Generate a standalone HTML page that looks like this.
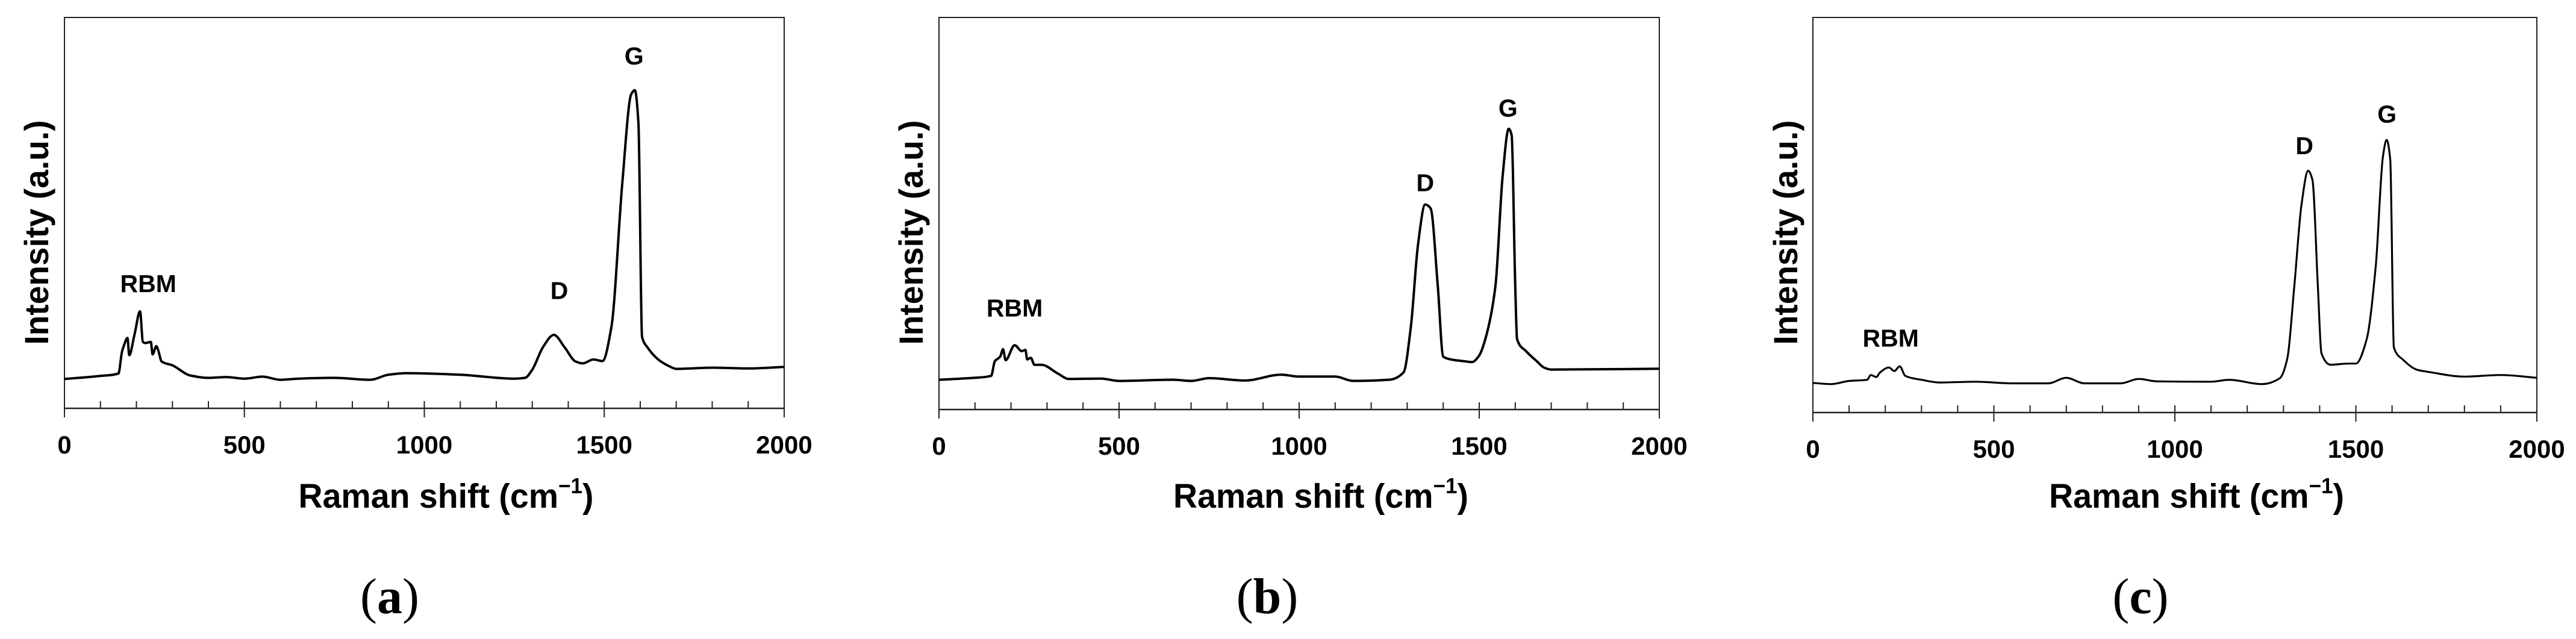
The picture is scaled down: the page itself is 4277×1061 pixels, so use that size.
<!DOCTYPE html>
<html><head><meta charset="utf-8"><style>
html,body{margin:0;padding:0;background:#fff;}
svg{display:block;}
text{font-family:"Liberation Sans",sans-serif;font-weight:bold;fill:#000;}
</style></head><body>
<svg id="fig" width="4277" height="1061" viewBox="0 0 4277 1061" xmlns="http://www.w3.org/2000/svg"></svg>
<script>
// ---- data (x: Raman shift cm^-1, y: intensity a.u., 0..100 of plot height) ----
const xTicks = [0, 500, 1000, 1500, 2000];
const panelLetters = ["a", "b", "c"];
const peakNames = ["RBM", "D", "G"];

const xA = [0,100,150,160,165,175,180,195,210,218,225,240,245,255,260,270,300,350,400,450,500,550,600,650,750,850,900,950,1100,1250,1280,1300,1330,1360,1390,1420,1440,1470,1495,1520,1550,1575,1585,1595,1605,1620,1650,1680,1700,1800,1900,2000];
const yA = [7.5,8.3,8.9,14.5,16,18,13.6,19,24.8,17,16.7,17,13.8,15.9,15,12,11,8.4,7.8,8,7.6,8.1,7.3,7.6,7.8,7.3,8.6,9,8.6,7.6,7.8,9.9,15.7,18.8,15.6,12,11.5,12.5,12.1,20.9,57.4,80.4,81.4,73,18.3,15.6,12.5,10.8,10.1,10.4,10.2,10.6];
const labelXA = [233, 1375, 1583];
const labelYA = [29.7, 28, 88];

const xB = [0,100,145,155,170,178,185,210,230,240,245,255,265,285,330,360,450,500,650,700,750,850,950,1000,1100,1150,1250,1290,1310,1330,1350,1365,1385,1400,1420,1460,1480,1500,1520,1545,1565,1582,1590,1600,1605,1630,1660,1680,1700,2000];
const yB = [7.6,8.1,8.6,12.3,13.5,15.4,12.6,16.4,14.9,15.2,12.8,13.2,11.4,11.4,9.2,7.8,7.9,7.3,7.6,7.3,8,7.4,8.9,8.4,8.4,7.3,7.6,9.5,21,42,52.3,51.3,31.5,13.5,12.8,12.3,12.1,13.8,19,31.5,59.6,71.6,70,31.5,18,14.9,12.3,10.7,10.2,10.4];
const labelXB = [210, 1350, 1580];
const labelYB = [23.7, 55.7, 74.7];

const xC = [0,50,100,150,160,175,185,210,225,240,255,300,350,450,550,650,700,750,850,900,950,1100,1150,1240,1290,1310,1330,1350,1368,1380,1395,1405,1430,1480,1500,1530,1555,1575,1585,1595,1605,1630,1670,1700,1800,1900,2000];
const yC = [7.5,7.2,8,8.3,9.5,9,10.1,11.4,10.5,11.7,9.3,8.3,7.6,7.8,7.4,7.4,8.8,7.4,7.4,8.5,7.9,7.8,8.3,7.2,8.7,13.4,32,52.7,61.2,58.9,32,15,12.1,12.4,12.4,18.6,37.2,65,69,64,16.5,13.4,10.8,10.3,9.1,9.5,8.8];
const labelXC = [215, 1358, 1586];
const labelYC = [16.7, 65.4, 73.4];

const seriesX = [xA, xB, xC];
const seriesY = [yA, yB, yC];
const labelsX = [labelXA, labelXB, labelXC];
const labelsY = [labelYA, labelYB, labelYC];

// ---- layout ----
const NS = "http://www.w3.org/2000/svg";
const svg = document.getElementById("fig");
const panels = [
  {l:107, r:1302, t:29, b:678, yt:60, lc:647, sw:4},
  {l:1559, r:2755, t:29, b:680, yt:1512, lc:2104, sw:4},
  {l:3010, r:4212, t:29, b:685, yt:2964, lc:3554, sw:3.2}
];
function mk(tag, attrs, parent){
  const e = document.createElementNS(NS, tag);
  for (const k in attrs) e.setAttribute(k, attrs[k]);
  (parent||svg).appendChild(e);
  return e;
}
// monotone cubic (Fritsch-Carlson) path
function monotonePath(pts){
  const n = pts.length;
  const dx = [], m = [];
  for (let k = 0; k < n-1; k++){ dx.push(pts[k+1][0]-pts[k][0]); m.push((pts[k+1][1]-pts[k][1])/dx[k]); }
  const t = [m[0]];
  for (let k = 1; k < n-1; k++){
    if (m[k-1]*m[k] <= 0) t.push(0);
    else { const w1 = 2*dx[k]+dx[k-1], w2 = dx[k]+2*dx[k-1]; t.push((w1+w2)/(w1/m[k-1]+w2/m[k])); }
  }
  t.push(m[n-2]);
  let d = `M${pts[0][0].toFixed(1)},${pts[0][1].toFixed(1)}`;
  for (let k = 0; k < n-1; k++){
    const h = dx[k]/3;
    d += ` C${(pts[k][0]+h).toFixed(1)},${(pts[k][1]+t[k]*h).toFixed(1)} ${(pts[k+1][0]-h).toFixed(1)},${(pts[k+1][1]-t[k+1]*h).toFixed(1)} ${pts[k+1][0].toFixed(1)},${pts[k+1][1].toFixed(1)}`;
  }
  return d;
}

panels.forEach((p, i) => {
  const g = mk("g", {});
  
  
  const sx = v => p.l + (v - 0) / 2000 * (p.r - p.l);
  const sy = v => p.b - v / 100 * (p.b - p.t);

  const frame = mk("path", {d:`M${p.l},${p.b+15} L${p.l},${p.t} L${p.r},${p.t} L${p.r},${p.b}`, fill:"none", stroke:"#222", "stroke-width":2}, g);
  
  
  const axis = mk("line", {x1:p.l, x2:p.r, y1:p.b, y2:p.b, stroke:"#222", "stroke-width":2.5}, g);
  
  

  for (let v = 100; v <= 2000; v += 100) {
    const major = v % 500 === 0;
    const t = mk("line", {x1:sx(v), x2:sx(v), y1:p.b-12, y2: major ? p.b+15 : p.b, stroke:"#222", "stroke-width":2}, g);
    
    
  }
  xTicks.forEach(v => {
    const t = mk("text", {x:sx(v), y:p.b+75, "text-anchor":"middle", "font-size":42}, g);
    t.textContent = v;
    
    
  });

  const xt = mk("text", {x:(p.l+p.r)/2 + 36, y:843, "text-anchor":"middle", "font-size":57, textLength:490, lengthAdjust:"spacingAndGlyphs"}, g);
  xt.innerHTML = 'Raman shift (cm<tspan dy="-24" font-size="36">−1</tspan><tspan dy="24">)</tspan>';
  
  

  const yt = mk("text", {x:0, y:0, "text-anchor":"middle", "font-size":56, textLength:373, lengthAdjust:"spacingAndGlyphs", transform:`translate(${p.yt+20},386) rotate(-90)`}, g);
  yt.textContent = "Intensity (a.u.)";
  
  

  const xs = seriesX[i], ys = seriesY[i];
  const pts = xs.map((x, k) => [sx(x), sy(ys[k])]);
  const line = mk("path", {d: monotonePath(pts), fill:"none", stroke:"#000", "stroke-width":p.sw, "stroke-linejoin":"round"}, g);
  
  

  peakNames.forEach((nm, k) => {
    const t = mk("text", {x:sx(labelsX[i][k]), y:sy(labelsY[i][k]), "text-anchor":"middle", "font-size":41}, g);
    t.textContent = nm;
    
    
  });

  const pl = mk("text", {x:p.lc, y:1018, "text-anchor":"middle", "font-size":84, style:"font-family:'Liberation Serif',serif;font-weight:normal"}, g);
  pl.innerHTML = '(<tspan font-weight="bold">' + panelLetters[i] + '</tspan>)';
  
  
});
</script>
</body></html>
